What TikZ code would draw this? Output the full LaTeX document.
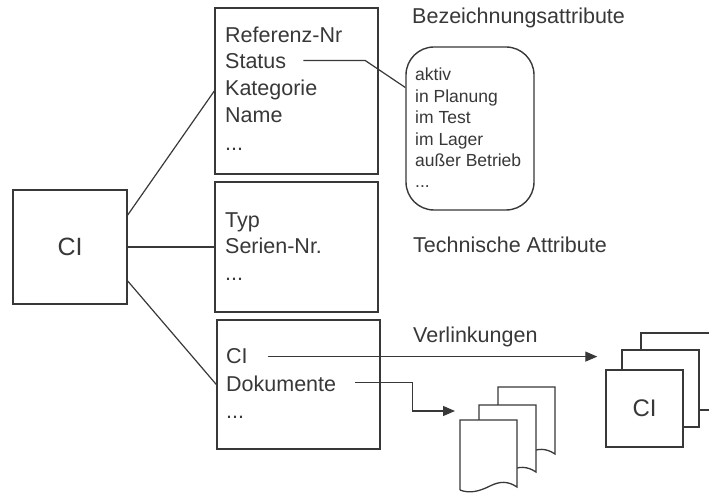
\documentclass[tikz,border=0pt]{standalone}
\usepackage{fontspec}
\setmainfont{Liberation Sans}
\usetikzlibrary{arrows.meta}

\definecolor{ink}{gray}{0.22}
\tikzset{
    box/.style={draw=ink, line width=1.4pt, fill=white, rectangle, inner sep=0pt},
    conn/.style={draw=ink, line width=1.2pt},
    arr/.style={conn, -{Triangle[length=12pt,width=10pt]}},
    lbl/.style={anchor=base west, inner sep=0pt, text=ink, font=\fontsize{21.5}{26}\selectfont},
    small/.style={anchor=base west, inner sep=0pt, text=ink, font=\fontsize{17.5}{21}\selectfont},
}
% one sheet of the document stack, top left corner at #1,#2
\newcommand\docsheet[2]{%
    \begin{scope}[shift={(#1,#2)}]
    \filldraw [fill=white, draw=ink, line width=1.3pt] (0,70) -- (0,0) -- (57,0) -- (57,67)
        .. controls (48,61) and (40,61) .. (30,66)
        .. controls (20,71) and (10,74) .. (0,70);
    \end{scope}
}

\begin{document}
\begin{tikzpicture}[x=1pt,y=-1pt]
\useasboundingbox (0,0) rectangle (709,494);
\clip (0,0) rectangle (709,494);

% configuration item
\node [box, minimum width=114pt, minimum height=114pt,
       font=\fontsize{25}{30}\selectfont, text=ink] (ci) at (70,247) {CI};

% attribute groups
\node [box, minimum width=163pt, minimum height=166pt] (attr) at (296.5,91) {};
\node [box, minimum width=163pt, minimum height=130pt] (tech) at (296.5,247) {};
\node [box, minimum width=163pt, minimum height=129pt] (link) at (298.5,384.5) {};

\node [lbl] (refnr) at (225,43) {Referenz-Nr};
\node [lbl] (status) at (225,69) {Status};
\node [lbl] (kat) at (225,96) {Kategorie};
\node [lbl] (name) at (225,123) {Name};
\node [lbl] (attrdots) at (225,151) {...};

\node [lbl] (typ) at (225,228) {Typ};
\node [lbl] (sernr) at (225,254) {Serien-Nr.};
\node [lbl] (techdots) at (225,280) {...};

\node [lbl] (linkci) at (226,363) {CI};
\node [lbl] (linkdoc) at (226,391) {Dokumente};
\node [lbl] (linkdots) at (226,418) {...};

% headings
\node [lbl] (hbez) at (412,24) {Bezeichnungsattribute};
\node [lbl] (htech) at (413,253) {Technische Attribute};
\node [lbl] (hlink) at (413,342) {Verlinkungen};

% status values
\node [box, rounded corners=28pt, minimum width=128pt, minimum height=163pt] (states) at (470,128.5) {};
\node [small] (s1) at (415,81) {aktiv};
\node [small] (s2) at (415,103) {in Planung};
\node [small] (s3) at (415,124) {im Test};
\node [small] (s4) at (415,146) {im Lager};
\node [small] (s5) at (415,167) {außer Betrieb};
\node [small] (s6) at (415,188) {...};

% linked documents
\docsheet{498}{387}
\docsheet{479}{405}
\docsheet{460}{420}
\coordinate (docin) at (455,411);

% linked configuration items
\node [box, minimum width=77pt, minimum height=77pt] (ci3) at (679.5,371.5) {};
\node [box, minimum width=77pt, minimum height=77pt] (ci2) at (660.5,388.5) {};
\node [box, minimum width=77pt, minimum height=77pt,
       font=\fontsize{24}{28}\selectfont, text=ink] (ci1) at (644.5,408.5) {CI};

% connectors
\draw [conn] ([yshift=32pt]ci.east) -- (attr.west);
\draw [conn] (ci.east) -- (tech.west);
\draw [conn] ([yshift=-34pt]ci.east) -- (link.west);

\draw [conn] ([xshift=17pt,yshift=1pt]status.east) -- ++(62,0) -- ([yshift=41pt]states.west);
\draw [arr] ([xshift=20pt,yshift=-1pt]linkci.east) -- ([xshift=-8pt,yshift=-1pt]linkci.east -| ci1.west);
\draw [arr] ([xshift=19pt,yshift=1pt]linkdoc.east) -- ++(57,0) |- (docin);
\end{tikzpicture}
\end{document}
